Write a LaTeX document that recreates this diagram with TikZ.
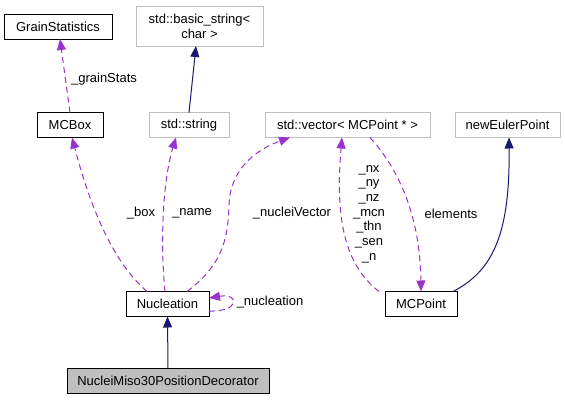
\documentclass[tikz,border=0pt]{standalone}
\usepackage{fontspec}
\setmainfont{Liberation Sans}
\usetikzlibrary{arrows.meta}

\definecolor{edgepurple}{HTML}{9A32CD}
\definecolor{edgenavy}{HTML}{191970}
\definecolor{boxgray}{HTML}{BFBFBF}

\begin{document}
\begin{tikzpicture}[x=1pt,y=-1pt,
  every node/.style={font=\fontsize{13}{14.7}\selectfont, inner sep=0pt, outer sep=0pt},
  classbox/.style={draw=black, line width=1pt, fill=white, minimum height=25pt},
  extbox/.style={draw=boxgray, line width=1pt, fill=white, minimum height=25pt},
  usage/.style={edgepurple, line width=1pt, dash pattern=on 6pt off 4pt, -{Triangle[length=11pt,width=9pt]}},
  inherit/.style={edgenavy, line width=1pt, -{Triangle[length=11pt,width=9pt]}}]
\useasboundingbox (0,0) rectangle (565,400);

\node[classbox, minimum width=108pt] (grain) at (58,26.5) {GrainStatistics};
\node[extbox, minimum width=127pt, minimum height=40pt, align=center] (bstr) at (199.5,26) {std::basic\_string<\\char >};
\node[classbox, minimum width=66pt] (box) at (70,125) {MCBox};
\node[extbox, minimum width=80pt] (str) at (189,125) {std::string};
\node[extbox, minimum width=165pt] (vec) at (347.5,125) {std::vector< MCPoint * >};
\node[extbox, minimum width=105pt] (euler) at (507.5,125) {newEulerPoint};
\node[classbox, minimum width=83pt] (nucl) at (167.5,304) {Nucleation};
\node[classbox, minimum width=72pt] (mcp) at (421,304) {MCPoint};
\node[classbox, fill=boxgray, minimum width=202pt] (deco) at (168,380.5) {NucleiMiso30PositionDecorator};

\node (lgrain) at (104,79) {\_grainStats};
\node (lbox) at (141,213) {\_box};
\node (lname) at (192,213) {\_name};
\node (lvec) at (292,213) {\_nucleiVector};
\node (lnucl) at (270,302) {\_nucleation};
\node[align=center] (lfields) at (369,214) {\_nx\\\_ny\\\_nz\\\_mcn\\\_thn\\\_sen\\\_n};
\node (lelem) at (451,214) {elements};

\draw[usage] (box.north) -- ([xshift=2pt]grain.south);
\draw[inherit] (str.north) -- ([xshift=-3.5pt]bstr.south);
\draw[usage] ([xshift=-20.5pt]nucl.north) .. controls (120,268) and (95,225) .. ([xshift=2pt]box.south);
\draw[usage] ([xshift=-2.5pt]nucl.north) .. controls (160,240) and (163,180) .. ([xshift=-13pt]str.south);
\draw[usage] ([xshift=19.5pt]nucl.north) .. controls (222,265) and (228,240) .. (229,205)
  .. controls (230,170) and (255,150) .. ([xshift=-57.5pt]vec.south);
\draw[usage] ([yshift=-7pt]nucl.east) .. controls (240,312) and (240,293) .. ([yshift=6pt]nucl.east);
\draw[usage] ([xshift=-6pt]mcp.north west) .. controls (345,265) and (335,220) .. ([xshift=-5.5pt]vec.south);
\draw[usage] ([xshift=22.5pt]vec.south) .. controls (395,165) and (420,210) .. (mcp.north);
\draw[inherit] ([xshift=-4pt]mcp.north east) .. controls (495,270) and (510,230) .. ([xshift=1.5pt]euler.south);
\draw[inherit] (deco.north) -- (nucl.south);
\end{tikzpicture}
\end{document}
